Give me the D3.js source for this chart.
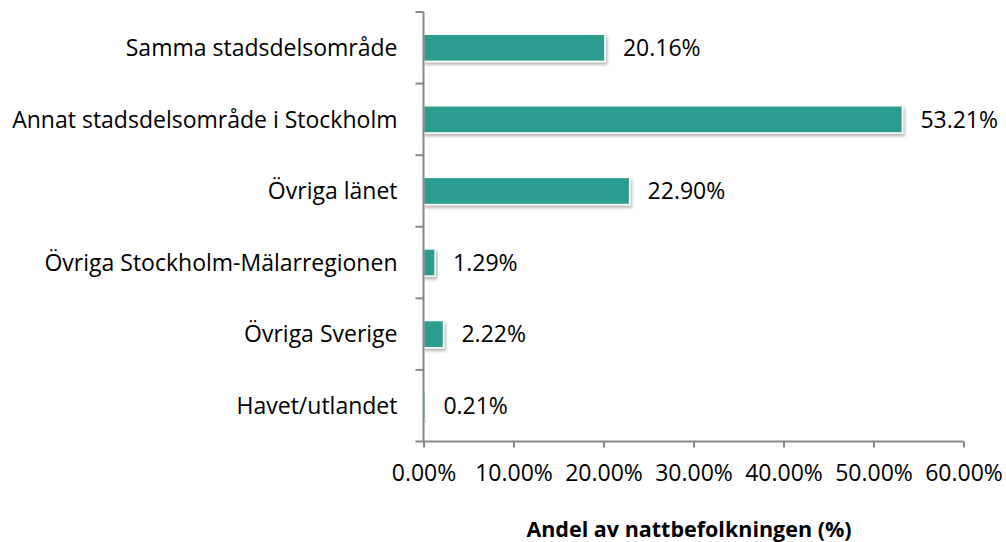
<!DOCTYPE html>
<html><head><meta charset="utf-8">
<script src="https://cdn.jsdelivr.net/npm/d3@7"></script>
<style>
html,body{margin:0;padding:0;background:#fff;}
text{font-family:"Open Sans",sans-serif;fill:#000;}
</style></head>
<body><svg id="c" width="1006" height="542"></svg>
<script>
const categories = ["Samma stadsdelsområde","Annat stadsdelsområde i Stockholm","Övriga länet","Övriga Stockholm-Mälarregionen","Övriga Sverige","Havet/utlandet"];
const values = [20.16, 53.21, 22.90, 1.29, 2.22, 0.21];
const xTicks = [0,10,20,30,40,50,60];
const xTitle = "Andel av nattbefolkningen (%)";

const svg = d3.select("#c");
const pL = 423.5, pR = 963.5, pT = 12, pB = 441.5;
const x = d3.scaleLinear().domain([0,60]).range([pL,pR]);
const y = d3.scaleBand().domain(categories).range([pT,pB]).paddingInner(0.62).paddingOuter(0.31);

const defs = svg.append("defs");
const f = defs.append("filter").attr("id","sh").attr("x","-10%").attr("y","-30%").attr("width","130%").attr("height","180%");
f.append("feDropShadow").attr("dx",1.5).attr("dy",2.5).attr("stdDeviation",1.8).attr("flood-color","#000").attr("flood-opacity",0.3);

svg.append("g").selectAll("rect").data(values).join("rect")
  .attr("x", x(0))
  .attr("y", (d,i)=>y(categories[i]))
  .attr("width", d=>x(d)-x(0))
  .attr("height", y.bandwidth())
  .attr("fill","#2A9D8F")
  .attr("stroke","#fff").attr("stroke-width",1.5)
  .attr("filter","url(#sh)");

svg.append("g").selectAll("text").data(values).join("text")
  .attr("x", d=>x(d)+18)
  .attr("y", (d,i)=>y(categories[i])+y.bandwidth()/2)
  .attr("dy","0.36em")
  .style("font-size","23px")
  .text(d=>d.toFixed(2)+"%");

const xa = svg.append("g").attr("transform",`translate(0,${pB})`)
  .call(d3.axisBottom(x).tickValues(xTicks).tickSize(6).tickPadding(17).tickFormat(d=>d.toFixed(2)+"%"));
xa.select(".domain").attr("stroke","#888").attr("stroke-width",2).attr("d",`M${pL},0H${pR}`);
xa.selectAll(".tick line").attr("stroke","#888").attr("stroke-width",2);
xa.selectAll("text").style("font-size","23px").attr("fill","#000");
xa.attr("font-family",null);

const yTickPos = d3.range(categories.length+1).map(i=>pT + i*(pB-pT)/categories.length);
const ya = svg.append("g");
ya.append("line").attr("x1",pL).attr("x2",pL).attr("y1",pT).attr("y2",pB).attr("stroke","#888").attr("stroke-width",2);
ya.selectAll("line.t").data(yTickPos).join("line").attr("class","t")
  .attr("x1",pL-8).attr("x2",pL).attr("y1",d=>d).attr("y2",d=>d).attr("stroke","#888").attr("stroke-width",2);
ya.selectAll("text").data(categories).join("text")
  .attr("x", pL-26)
  .attr("y", d=>y(d)+y.bandwidth()/2)
  .attr("dy","0.36em")
  .attr("text-anchor","end")
  .style("font-size","23px")
  .text(d=>d);

svg.append("text").attr("x",689).attr("y",537)
  .attr("text-anchor","middle").style("font-size","21.5px").style("font-weight","bold").text(xTitle);
</script></body></html>
